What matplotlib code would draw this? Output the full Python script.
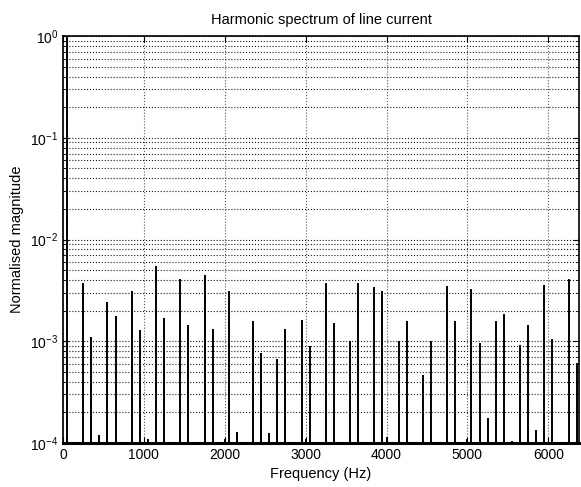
import matplotlib
matplotlib.use("Agg")
import matplotlib.pyplot as plt
from matplotlib.ticker import LogLocator, NullFormatter, MultipleLocator

plt.rcParams['font.family'] = ['Liberation Sans', 'DejaVu Sans']

# harmonic frequencies (Hz) and normalised magnitudes
freq = [50, 250, 350, 450, 550, 650, 850, 950, 1050, 1150, 1250, 1450, 1550,
        1750, 1850, 2000, 2050, 2150, 2350, 2450, 2550, 2650, 2750, 2950,
        3000, 3050, 3250, 3350, 3550, 3650, 3850, 3950, 4000, 4150, 4250,
        4450, 4550, 4750, 4850, 5000, 5050, 5150, 5250, 5350, 5450, 5550,
        5650, 5750, 5850, 5950, 6050, 6250, 6350]
mag = [1.0, 3.7e-3, 1.11e-3, 1.2e-4, 2.43e-3, 1.76e-3, 3.11e-3, 1.28e-3,
       1.1e-4, 5.47e-3, 1.68e-3, 4.05e-3, 1.43e-3, 4.44e-3, 1.31e-3, 1.1e-4,
       3.11e-3, 1.28e-4, 1.58e-3, 7.6e-4, 1.25e-4, 6.7e-4, 1.31e-3, 1.62e-3,
       1.1e-4, 8.9e-4, 3.7e-3, 1.5e-3, 1.0e-3, 3.76e-3, 3.38e-3, 3.09e-3,
       1.15e-4, 1.0e-3, 1.58e-3, 4.7e-4, 1.0e-3, 3.46e-3, 1.58e-3, 1.1e-4,
       3.29e-3, 9.6e-4, 1.76e-4, 1.58e-3, 1.84e-3, 1.05e-4, 9.1e-4, 1.44e-3,
       1.35e-4, 3.54e-3, 1.05e-3, 4.05e-3, 6.1e-4]

ymin, ymax = 1e-4, 1.0

fig = plt.figure(figsize=(5.81, 4.87), dpi=100)
ax = fig.add_axes([0.1084, 0.0903, 0.8882, 0.8357])

ax.vlines(freq, ymin, mag, colors='black', linewidth=1.4)

ax.set_yscale('log')
ax.set_xlim(0, 6380)
ax.set_ylim(ymin, ymax)
ax.xaxis.set_major_locator(MultipleLocator(1000))
ax.yaxis.set_major_locator(LogLocator(base=10))
ax.yaxis.set_minor_locator(LogLocator(base=10, subs=range(2, 10)))
ax.yaxis.set_minor_formatter(NullFormatter())

ax.grid(True, which='major', axis='x', linestyle=':', color='0.35', linewidth=0.8)
ax.grid(True, which='both', axis='y', linestyle=':', color='0.1', linewidth=0.8)
ax.set_axisbelow(True)

ax.tick_params(which='both', direction='in', top=True, right=True, labelsize=10)
ax.tick_params(which='major', length=4)
ax.tick_params(which='minor', length=2)

for s in ax.spines.values():
    s.set_linewidth(1.2)
ax.spines['bottom'].set_linewidth(2.2)

ax.set_title('Harmonic spectrum of line current', fontsize=10.5, pad=9)
ax.set_xlabel('Frequency (Hz)', fontsize=10.5, labelpad=4)
ax.set_ylabel('Normalised magnitude', fontsize=10.5, labelpad=4)

fig.savefig('out.png', dpi=100)
